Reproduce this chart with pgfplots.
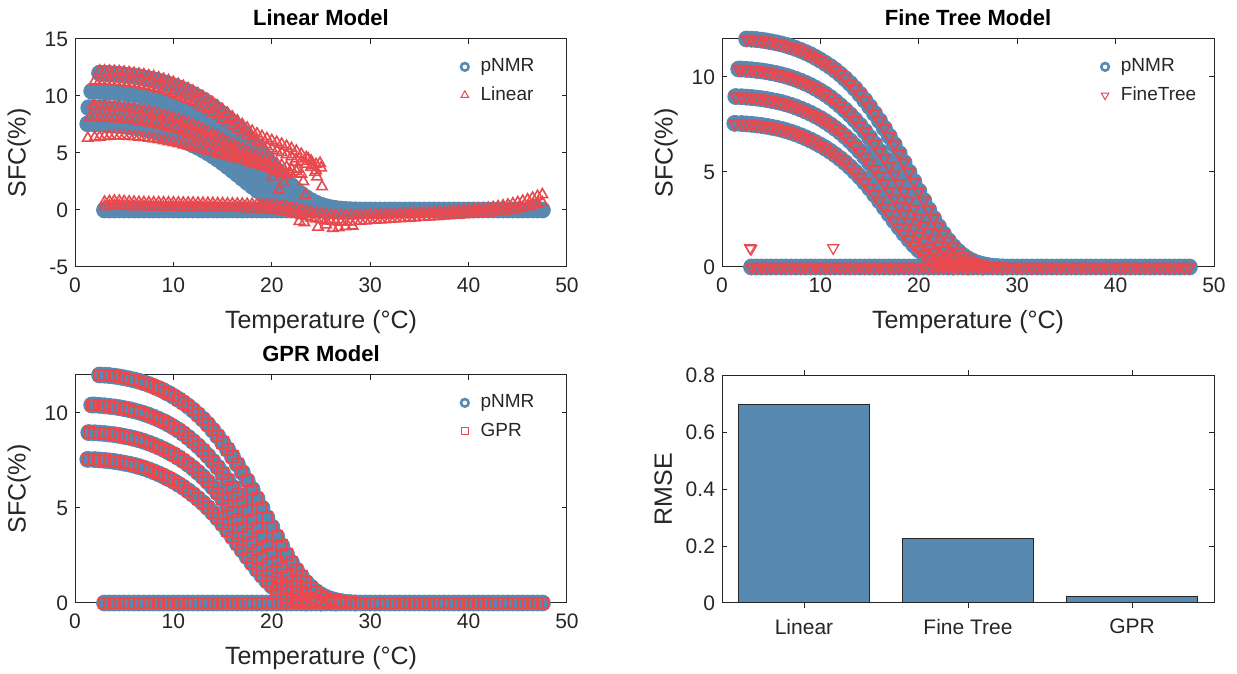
\documentclass[border=0pt]{standalone}
\usepackage{fontspec}
\setmainfont{Liberation Sans}
\usepackage{pgfplots}
\usepackage{pgfplotstable}
\pgfplotsset{compat=1.18}

\definecolor{nmrblue}{HTML}{5789B1}
\definecolor{mdlred}{HTML}{E8494E}
\definecolor{axgray}{HTML}{262626}

% pNMR curves (T, SFC)
\pgfplotstableread[row sep=\\]{T v\\
2.5 12.0\\ 3 11.99\\ 3.5 11.97\\ 4 11.94\\ 4.5 11.9\\ 5 11.85\\ 5.5 11.8\\ 6 11.74\\ 6.5 11.67\\ 7 11.59\\
7.5 11.5\\ 8 11.4\\ 8.5 11.29\\ 9 11.17\\ 9.5 11.03\\ 10 10.88\\ 10.5 10.72\\ 11 10.55\\ 11.5 10.36\\ 12 10.15\\
12.5 9.92\\ 13 9.67\\ 13.5 9.4\\ 14 9.1\\ 14.5 8.78\\ 15 8.44\\ 15.5 8.08\\ 16 7.7\\ 16.5 7.3\\ 17 6.88\\
17.5 6.44\\ 18 5.98\\ 18.5 5.5\\ 19 5.0\\ 19.5 4.5\\ 20 4.0\\ 20.5 3.5\\ 21 3.02\\ 21.5 2.56\\ 22 2.13\\
22.5 1.74\\ 23 1.39\\ 23.5 1.08\\ 24 0.82\\ 24.5 0.6\\ 25 0.43\\ 25.5 0.3\\ 26 0.2\\ 26.5 0.13\\ 27 0.08\\
27.5 0.04\\ 28 0.02\\ 28.5 0.0\\
}\curveA
\pgfplotstableread[row sep=\\]{T v\\
1.7 10.42\\ 2 10.42\\ 2.5 10.4\\ 3 10.38\\ 3.5 10.35\\ 4 10.32\\ 4.5 10.28\\ 5 10.23\\ 5.5 10.18\\ 6 10.12\\
6.5 10.05\\ 7 9.97\\ 7.5 9.88\\ 8 9.78\\ 8.5 9.67\\ 9 9.55\\ 9.5 9.41\\ 10 9.26\\ 10.5 9.1\\ 11 8.92\\
11.5 8.72\\ 12 8.5\\ 12.5 8.27\\ 13 8.02\\ 13.5 7.75\\ 14 7.46\\ 14.5 7.15\\ 15 6.82\\ 15.5 6.47\\ 16 6.1\\
16.5 5.71\\ 17 5.3\\ 17.5 4.87\\ 18 4.42\\ 18.5 3.96\\ 19 3.5\\ 19.5 3.05\\ 20 2.62\\ 20.5 2.21\\ 21 1.83\\
21.5 1.48\\ 22 1.16\\ 22.5 0.88\\ 23 0.64\\ 23.5 0.45\\ 24 0.3\\ 24.5 0.19\\ 25 0.11\\ 25.5 0.06\\ 26 0.03\\
26.5 0.0\\
}\curveB
\pgfplotstableread[row sep=\\]{T v\\
1.4 8.97\\ 2 8.96\\ 2.5 8.94\\ 3 8.92\\ 3.5 8.89\\ 4 8.86\\ 4.5 8.82\\ 5 8.77\\ 5.5 8.72\\ 6 8.66\\
6.5 8.59\\ 7 8.51\\ 7.5 8.42\\ 8 8.32\\ 8.5 8.21\\ 9 8.09\\ 9.5 7.96\\ 10 7.82\\ 10.5 7.66\\ 11 7.49\\
11.5 7.3\\ 12 7.1\\ 12.5 6.88\\ 13 6.64\\ 13.5 6.38\\ 14 6.1\\ 14.5 5.8\\ 15 5.48\\ 15.5 5.14\\ 16 4.78\\
16.5 4.4\\ 17 4.0\\ 17.5 3.6\\ 18 3.19\\ 18.5 2.79\\ 19 2.4\\ 19.5 2.02\\ 20 1.66\\ 20.5 1.33\\ 21 1.03\\
21.5 0.77\\ 22 0.55\\ 22.5 0.37\\ 23 0.23\\ 23.5 0.13\\ 24 0.06\\ 24.5 0.02\\ 25 0.0\\
}\curveC
\pgfplotstableread[row sep=\\]{T v\\
1.3 7.56\\ 2 7.55\\ 2.5 7.53\\ 3 7.51\\ 3.5 7.48\\ 4 7.45\\ 4.5 7.41\\ 5 7.36\\ 5.5 7.31\\ 6 7.25\\
6.5 7.18\\ 7 7.1\\ 7.5 7.01\\ 8 6.91\\ 8.5 6.8\\ 9 6.68\\ 9.5 6.55\\ 10 6.41\\ 10.5 6.26\\ 11 6.09\\
11.5 5.91\\ 12 5.71\\ 12.5 5.5\\ 13 5.27\\ 13.5 5.02\\ 14 4.75\\ 14.5 4.46\\ 15 4.15\\ 15.5 3.82\\ 16 3.48\\
16.5 3.13\\ 17 2.78\\ 17.5 2.43\\ 18 2.09\\ 18.5 1.76\\ 19 1.45\\ 19.5 1.16\\ 20 0.9\\ 20.5 0.67\\ 21 0.47\\
21.5 0.31\\ 22 0.19\\ 22.5 0.1\\ 23 0.04\\ 23.5 0.0\\
}\curveD
\pgfplotstableread[row sep=\\]{T v\\
3 0\\ 3.5 0\\ 4 0\\ 4.5 0\\ 5 0\\ 5.5 0\\ 6 0\\ 6.5 0\\ 7 0\\ 7.5 0\\ 8 0\\ 8.5 0\\ 9 0\\ 9.5 0\\ 10 0\\
10.5 0\\ 11 0\\ 11.5 0\\ 12 0\\ 12.5 0\\ 13 0\\ 13.5 0\\ 14 0\\ 14.5 0\\ 15 0\\ 15.5 0\\ 16 0\\ 16.5 0\\
17 0\\ 17.5 0\\ 18 0\\ 18.5 0\\ 19 0\\ 19.5 0\\ 20 0\\ 20.5 0\\ 21 0\\ 21.5 0\\ 22 0\\ 22.5 0\\ 23 0\\
23.5 0\\ 24 0\\ 24.5 0\\ 25 0\\ 25.5 0\\ 26 0\\ 26.5 0\\ 27 0\\ 27.5 0\\ 28 0\\ 28.5 0\\ 29 0\\ 29.5 0\\
30 0\\ 30.5 0\\ 31 0\\ 31.5 0\\ 32 0\\ 32.5 0\\ 33 0\\ 33.5 0\\ 34 0\\ 34.5 0\\ 35 0\\ 35.5 0\\ 36 0\\
36.5 0\\ 37 0\\ 37.5 0\\ 38 0\\ 38.5 0\\ 39 0\\ 39.5 0\\ 40 0\\ 40.5 0\\ 41 0\\ 41.5 0\\ 42 0\\ 42.5 0\\
43 0\\ 43.5 0\\ 44 0\\ 44.5 0\\ 45 0\\ 45.5 0\\ 46 0\\ 46.5 0\\ 47 0\\ 47.5 0\\
}\zeroline

% linear model predictions
\pgfplotstableread[row sep=\\]{T v\\
2.5 12.2\\ 3 12.2\\ 3.5 12.19\\ 4 12.17\\ 4.5 12.14\\ 5 12.1\\ 5.5 12.05\\ 6 12.0\\ 6.5 11.94\\ 7 11.87\\
7.5 11.79\\ 8 11.7\\ 8.5 11.6\\ 9 11.48\\ 9.5 11.35\\ 10 11.2\\ 10.5 11.03\\ 11 10.85\\ 11.5 10.65\\ 12 10.43\\
12.5 10.2\\ 13 9.95\\ 13.5 9.68\\ 14 9.4\\ 14.5 9.1\\ 15 8.8\\ 15.5 8.48\\ 16 8.15\\ 16.5 7.82\\ 17 7.5\\
17.5 7.2\\ 18 6.92\\ 18.5 6.68\\ 19 6.46\\ 19.5 6.27\\ 20 6.1\\ 20.5 5.94\\ 21 5.78\\ 21.5 5.6\\ 22 5.4\\
22.5 5.17\\ 23 4.9\\ 23.5 4.6\\ 24 4.3\\ 24.5 4.0\\ 25 3.7\\
}\linA
\pgfplotstableread[row sep=\\]{T v\\
2 11.3\\ 2.5 11.3\\ 3 11.29\\ 3.5 11.27\\ 4 11.25\\ 4.5 11.22\\ 5 11.18\\ 5.5 11.13\\ 6 11.07\\ 6.5 11.0\\
7 10.92\\ 7.5 10.83\\ 8 10.73\\ 8.5 10.62\\ 9 10.5\\ 9.5 10.36\\ 10 10.21\\ 10.5 10.05\\ 11 9.87\\ 11.5 9.68\\
12 9.47\\ 12.5 9.25\\ 13 9.02\\ 13.5 8.77\\ 14 8.51\\ 14.5 8.24\\ 15 7.96\\ 15.5 7.67\\ 16 7.38\\ 16.5 7.09\\
17 6.8\\ 17.5 6.52\\ 18 6.25\\ 18.5 6.0\\ 19 5.77\\ 19.5 5.56\\ 20 5.37\\ 20.5 5.2\\ 21 5.03\\ 21.5 4.86\\
22 4.68\\ 22.5 4.48\\ 23 4.26\\ 23.5 4.02\\ 24 3.75\\ 24.5 3.45\\
}\linB
\pgfplotstableread[row sep=\\]{T v\\
1.8 9.1\\ 2 9.1\\ 2.5 9.09\\ 3 9.08\\ 3.5 9.06\\ 4 9.03\\ 4.5 9.0\\ 5 8.96\\ 5.5 8.91\\ 6 8.85\\
6.5 8.78\\ 7 8.7\\ 7.5 8.62\\ 8 8.53\\ 8.5 8.43\\ 9 8.32\\ 9.5 8.2\\ 10 8.07\\ 10.5 7.93\\ 11 7.78\\
11.5 7.62\\ 12 7.45\\ 12.5 7.27\\ 13 7.08\\ 13.5 6.88\\ 14 6.67\\ 14.5 6.46\\ 15 6.24\\ 15.5 6.02\\ 16 5.8\\
16.5 5.58\\ 17 5.36\\ 17.5 5.15\\ 18 4.95\\ 18.5 4.76\\ 19 4.58\\ 19.5 4.41\\ 20 4.25\\ 20.5 4.09\\ 21 3.93\\
21.5 3.76\\ 22 3.58\\ 22.5 3.38\\ 23 3.16\\
}\linC
\pgfplotstableread[row sep=\\]{T v\\
1.5 8.1\\ 2 8.1\\ 2.5 8.09\\ 3 8.08\\ 3.5 8.06\\ 4 8.03\\ 4.5 8.0\\ 5 7.96\\ 5.5 7.91\\ 6 7.86\\
6.5 7.8\\ 7 7.73\\ 7.5 7.65\\ 8 7.57\\ 8.5 7.48\\ 9 7.38\\ 9.5 7.27\\ 10 7.15\\ 10.5 7.02\\ 11 6.88\\
11.5 6.73\\ 12 6.58\\ 12.5 6.42\\ 13 6.25\\ 13.5 6.07\\ 14 5.89\\ 14.5 5.7\\ 15 5.51\\ 15.5 5.31\\ 16 5.11\\
16.5 4.91\\ 17 4.71\\ 17.5 4.51\\ 18 4.31\\ 18.5 4.12\\ 19 3.93\\ 19.5 3.74\\ 20 3.55\\ 20.5 3.36\\ 21 3.16\\
21.5 2.95\\
}\linD
\pgfplotstableread[row sep=\\]{T v\\
1.3 6.3\\ 2 6.35\\ 2.5 6.4\\ 3 6.45\\ 3.5 6.48\\ 4 6.5\\ 4.5 6.5\\ 5 6.49\\ 5.5 6.47\\ 6 6.44\\
6.5 6.4\\ 7 6.36\\ 7.5 6.31\\ 8 6.25\\ 8.5 6.18\\ 9 6.1\\ 9.5 6.01\\ 10 5.92\\ 10.5 5.82\\ 11 5.72\\
11.5 5.62\\ 12 5.51\\ 12.5 5.4\\ 13 5.29\\ 13.5 5.18\\ 14 5.07\\ 14.5 4.96\\ 15 4.85\\ 15.5 4.74\\ 16 4.62\\
16.5 4.5\\ 17 4.38\\ 17.5 4.25\\ 18 4.12\\ 18.5 3.98\\ 19 3.84\\ 19.5 3.7\\ 20 3.55\\ 20.5 3.4\\ 21 3.25\\
}\linE
\pgfplotstableread[row sep=\\]{T v\\
3 0.70\\ 3.5 0.75\\ 4 0.80\\ 4.5 0.78\\ 5 0.75\\ 5.5 0.72\\ 6 0.70\\ 6.5 0.68\\ 7 0.67\\ 7.5 0.66\\
8 0.65\\ 8.5 0.65\\ 9 0.64\\ 9.5 0.64\\ 10 0.63\\ 10.5 0.63\\ 11 0.62\\ 11.5 0.62\\ 12 0.61\\ 12.5 0.60\\
13 0.60\\ 13.5 0.59\\ 14 0.58\\ 14.5 0.57\\ 15 0.56\\ 15.5 0.55\\ 16 0.54\\ 16.5 0.53\\ 17 0.52\\ 17.5 0.51\\
18 0.50\\ 18.5 0.49\\ 19 0.48\\ 19.5 0.46\\ 20 0.44\\ 20.5 0.40\\ 21 0.35\\ 21.5 0.28\\ 22 0.20\\ 22.5 0.10\\
23 0.00\\ 23.5 -0.10\\ 24 -0.20\\ 24.5 -0.28\\ 25 -0.35\\ 25.5 -0.40\\ 26 -0.45\\ 26.5 -0.48\\ 27 -0.50\\ 27.5 -0.50\\
28 -0.50\\ 28.5 -0.49\\ 29 -0.48\\ 29.5 -0.47\\ 30 -0.45\\ 30.5 -0.44\\ 31 -0.43\\ 31.5 -0.42\\ 32 -0.40\\ 32.5 -0.38\\
33 -0.36\\ 33.5 -0.35\\ 34 -0.33\\ 34.5 -0.31\\ 35 -0.29\\ 35.5 -0.27\\ 36 -0.25\\ 36.5 -0.22\\ 37 -0.20\\ 37.5 -0.17\\
38 -0.15\\ 38.5 -0.12\\ 39 -0.08\\ 39.5 -0.05\\ 40 -0.02\\ 40.5 0.02\\ 41 0.06\\ 41.5 0.10\\ 42 0.15\\ 42.5 0.22\\
43 0.30\\ 43.5 0.37\\ 44 0.45\\ 44.5 0.55\\ 45 0.65\\ 45.5 0.77\\ 46 0.90\\ 46.5 1.05\\ 47 1.20\\ 47.5 1.35\\
}\linLowA
\pgfplotstableread[row sep=\\]{T v\\
3 0.30\\ 3.5 0.35\\ 4 0.40\\ 4.5 0.38\\ 5 0.35\\ 5.5 0.33\\ 6 0.31\\ 6.5 0.30\\ 7 0.29\\ 7.5 0.28\\
8 0.27\\ 8.5 0.27\\ 9 0.26\\ 9.5 0.26\\ 10 0.25\\ 10.5 0.25\\ 11 0.24\\ 11.5 0.24\\ 12 0.23\\ 12.5 0.22\\
13 0.22\\ 13.5 0.21\\ 14 0.20\\ 14.5 0.19\\ 15 0.18\\ 15.5 0.17\\ 16 0.16\\ 16.5 0.15\\ 17 0.14\\ 17.5 0.13\\
18 0.12\\ 18.5 0.10\\ 19 0.08\\ 19.5 0.05\\ 20 0.02\\ 20.5 -0.03\\ 21 -0.10\\ 21.5 -0.18\\ 22 -0.28\\ 22.5 -0.38\\
23 -0.48\\ 23.5 -0.58\\ 24 -0.68\\ 24.5 -0.77\\ 25 -0.85\\ 25.5 -0.92\\ 26 -0.98\\ 26.5 -1.02\\ 27 -1.05\\ 27.5 -1.05\\
28 -1.03\\ 28.5 -1.00\\ 29 -0.97\\ 29.5 -0.94\\ 30 -0.91\\ 30.5 -0.88\\ 31 -0.86\\ 31.5 -0.83\\ 32 -0.80\\ 32.5 -0.78\\
33 -0.75\\ 33.5 -0.73\\ 34 -0.70\\ 34.5 -0.68\\ 35 -0.65\\ 35.5 -0.63\\ 36 -0.60\\ 36.5 -0.57\\ 37 -0.55\\ 37.5 -0.52\\
38 -0.50\\ 38.5 -0.47\\ 39 -0.44\\ 39.5 -0.41\\ 40 -0.38\\ 40.5 -0.35\\ 41 -0.31\\ 41.5 -0.28\\ 42 -0.25\\ 42.5 -0.20\\
43 -0.15\\ 43.5 -0.10\\ 44 -0.05\\ 44.5 0.02\\ 45 0.10\\ 45.5 0.20\\ 46 0.30\\ 46.5 0.42\\ 47 0.55\\ 47.5 0.65\\
}\linLowB
\pgfplotstableread[row sep=\\]{T v\\
20.1 2.9\\ 20.7 1.75\\ 21.9 3.2\\ 22.6 3.6\\ 23.2 2.5\\ 23.4 1.3\\ 24.1 3.95\\ 24.6 2.9\\ 25.1 2.05\\ 24.4 3.3\\
22.3 4.2\\ 23.7 4.5\\ 24.9 4.1\\ 21.2 2.4\\ 22.8 -1.0\\ 23.3 -1.1\\ 24.7 -1.5\\ 25.5 -1.3\\ 26.2 -1.6\\ 26.8 -1.55\\
27.5 -1.45\\ 28.2 -1.4\\
}\linSparse

\pgfplotsset{
  sfcaxis/.style={
    scale only axis, width=246pt, height=114pt, anchor=south west,
    xmin=0, xmax=50, xtick={0,10,20,30,40,50},
    tick align=inside, major tick length=2.5pt,
    axis line style={axgray, line width=0.5pt},
    every tick/.style={axgray, line width=0.5pt},
    ticklabel style={font=\fontsize{10.5}{12}\selectfont, text=axgray},
    xticklabel style={yshift=-2pt},
    label style={font=\fontsize{12.5}{14}\selectfont, text=axgray},
    xlabel style={yshift=-2pt},
    title style={font=\bfseries\fontsize{11}{13}\selectfont, yshift=-3pt},
    /pgf/number format/assume math mode=true,
    legend style={draw=none, fill=none, font=\fontsize{9.5}{11}\selectfont,
      text=axgray, at={(0.955,0.95)}, anchor=north east, row sep=2pt,
      /tikz/every odd column/.append style={column sep=4pt}},
    legend cell align=left,
    clip=false,
  },
  nmr/.style={only marks, color=nmrblue, mark=*, mark size=4pt,
    mark options={draw=nmrblue, fill=nmrblue}, forget plot},
  lin/.style={only marks, color=mdlred, mark=triangle, mark size=3pt,
    mark options={draw=mdlred, line width=0.8pt, fill=none}, forget plot},
  ftr/.style={only marks, color=mdlred, mark=triangle, mark size=3.2pt,
    mark options={draw=mdlred, line width=1pt, fill=none, rotate=180}, forget plot},
  gpr/.style={only marks, color=mdlred, mark=square, mark size=2.6pt,
    mark options={draw=mdlred, line width=1pt, fill=none}, forget plot},
  legnmr/.style={only marks, mark=o, mark size=1.9pt, mark options={draw=nmrblue, line width=1.3pt}},
}

\begin{document}
\begin{tikzpicture}
\path[use as bounding box] (0,0) rectangle (618.5pt,337pt);

% top left: linear model
\begin{axis}[sfcaxis, at={(37.5pt,203.5pt)},
  ymin=-5, ymax=15, ytick={-5,0,5,10,15},
  title={Linear Model}, xlabel={Temperature (°C)}, ylabel={SFC(\%)}]
\addlegendimage{legnmr}\addlegendentry{pNMR}
\addlegendimage{only marks, mark=triangle, mark size=2.2pt, mark options={draw=mdlred, line width=0.5pt}}\addlegendentry{Linear}
\addplot[nmr] table {\curveA};
\addplot[nmr] table {\curveB};
\addplot[nmr] table {\curveC};
\addplot[nmr] table {\curveD};
\addplot[nmr] table {\zeroline};
\addplot[lin] table {\linA};
\addplot[lin] table {\linB};
\addplot[lin] table {\linC};
\addplot[lin] table {\linD};
\addplot[lin] table {\linE};
\addplot[lin] table {\linLowA};
\addplot[lin] table {\linLowB};
\addplot[lin] table {\linSparse};
\end{axis}

% top right: fine tree
\begin{axis}[sfcaxis, at={(361pt,203.5pt)},
  ymin=0, ymax=12, ytick={0,5,10},
  title={Fine Tree Model}, xlabel={Temperature (°C)}, ylabel={SFC(\%)},
  legend style={at={(0.985,0.95)}}]
\addlegendimage{legnmr}\addlegendentry{pNMR}
\addlegendimage{only marks, mark=triangle, mark size=2.2pt, mark options={draw=mdlred, line width=0.5pt, rotate=180}}\addlegendentry{FineTree}
\addplot[nmr] table {\curveA};
\addplot[nmr] table {\curveB};
\addplot[nmr] table {\curveC};
\addplot[nmr] table {\curveD};
\addplot[nmr] table {\zeroline};
\addplot[ftr] table {\curveA};
\addplot[ftr] table {\curveB};
\addplot[ftr] table {\curveC};
\addplot[ftr] table {\curveD};
\addplot[ftr] table {\zeroline};
\addplot[ftr, mark options={draw=mdlred, line width=0.6pt, fill=none, rotate=180}] coordinates {(2.85,1.0) (2.95,0.95) (11.3,1.0)};
\end{axis}

% bottom left: GPR
\begin{axis}[sfcaxis, at={(37.5pt,35.5pt)},
  ymin=0, ymax=12, ytick={0,5,10},
  title={GPR Model}, xlabel={Temperature (°C)}, ylabel={SFC(\%)}]
\addlegendimage{legnmr}\addlegendentry{pNMR}
\addlegendimage{only marks, mark=square, mark size=1.8pt, mark options={draw=mdlred, line width=0.5pt}}\addlegendentry{GPR}
\addplot[nmr] table {\curveA};
\addplot[nmr] table {\curveB};
\addplot[nmr] table {\curveC};
\addplot[nmr] table {\curveD};
\addplot[nmr] table {\zeroline};
\addplot[gpr] table {\curveA};
\addplot[gpr] table {\curveB};
\addplot[gpr] table {\curveC};
\addplot[gpr] table {\curveD};
\addplot[gpr] table {\zeroline};
\addplot[gpr, mark options={draw=mdlred, line width=0.6pt, fill=none}] coordinates {(20.4,0.5)};
\end{axis}

% bottom right: RMSE bars
\begin{axis}[sfcaxis, at={(361pt,35.5pt)},
  xmin=0.5, xmax=3.5, xtick={1,2,3}, xticklabels={Linear,Fine Tree,GPR},
  ymin=0, ymax=0.8, ytick={0,0.2,0.4,0.6,0.8},
  ylabel={RMSE}, ybar, bar width=0.8, clip=true]
\addplot[fill=nmrblue, draw=axgray, line width=0.5pt] coordinates {(1,0.698) (2,0.225) (3,0.0245)};
\end{axis}
\end{tikzpicture}
\end{document}
